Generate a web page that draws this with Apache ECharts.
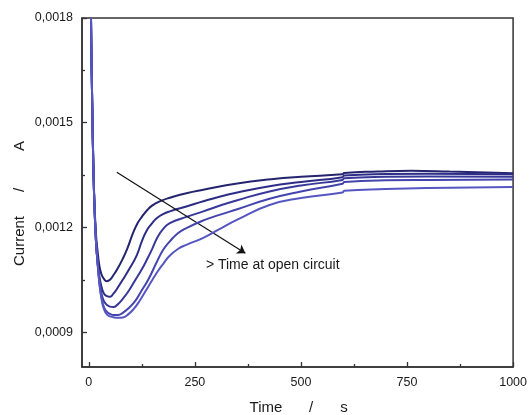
<!DOCTYPE html>
<html>
<head>
<meta charset="utf-8">
<script src="https://cdn.jsdelivr.net/npm/echarts@6/dist/echarts.min.js"></script>
<style>
  html, body { margin: 0; padding: 0; background: #fff; }
  #chart { width: 530px; height: 415px; }
</style>
</head>
<body>
<div id="chart"></div>
<script>
// time (s) / current (A) pairs, one array per curve (longer open-circuit time -> lower curve)
var curve1 = [[2,0.0023],[5,0.00182],[8,0.00156],[11,0.00137],[14,0.00125],[17,0.00118],[20,0.00114],[25,0.00109],[30,0.001065],[36,0.001052],[42,0.001046],[50,0.00105],[58,0.001063],[67,0.00108],[80,0.00111],[91,0.00114],[103,0.00118],[114,0.00121],[125,0.00123],[138,0.00125],[150,0.001263],[170,0.001276],[191,0.001285],[230,0.001298],[270,0.001308],[350,0.001326],[430,0.001338],[500,0.001345],[598,0.001352],[602,0.001356],[680,0.00136],[760,0.001362],[850,0.00136],[1000,0.001355]];
var curve2 = [[2,0.0023],[5,0.00182],[8,0.00156],[11,0.00136],[14,0.00124],[17,0.00116],[20,0.00111],[25,0.00106],[30,0.00103],[36,0.00101],[43,0.001003],[50,0.001001],[58,0.00101],[67,0.001025],[80,0.00105],[95,0.00108],[113,0.00112],[125,0.00116],[136,0.00119],[148,0.00121],[160,0.001226],[175,0.001238],[191,0.001246],[230,0.00126],[270,0.001275],[308,0.001288],[350,0.0013],[426,0.001318],[500,0.00133],[598,0.001344],[602,0.001349],[700,0.001353],[800,0.001354],[1000,0.001352]];
var curve3 = [[2,0.0023],[5,0.00182],[8,0.00156],[11,0.00136],[14,0.00124],[17,0.00116],[20,0.00111],[25,0.00105],[30,0.00101],[36,0.000988],[43,0.000978],[50,0.000973],[58,0.000972],[67,0.000978],[80,0.000995],[95,0.00102],[110,0.00105],[125,0.00108],[138,0.00111],[150,0.00114],[162,0.001172],[175,0.001195],[191,0.001212],[230,0.00123],[270,0.001246],[308,0.001262],[350,0.001278],[426,0.001303],[500,0.00132],[598,0.001336],[602,0.001341],[700,0.001345],[800,0.001346],[1000,0.001345]];
var curve4 = [[2,0.0023],[5,0.00182],[8,0.00156],[11,0.00136],[14,0.00124],[17,0.00116],[20,0.00111],[25,0.00104],[30,0.001],[36,0.00097],[43,0.000958],[50,0.000952],[58,0.000949],[69,0.000949],[80,0.000955],[95,0.00097],[110,0.00099],[125,0.00102],[140,0.00105],[160,0.0011],[175,0.001135],[191,0.00116],[210,0.001183],[230,0.001198],[270,0.00122],[308,0.001236],[350,0.001252],[426,0.001282],[500,0.001303],[598,0.001325],[602,0.00133],[700,0.001335],[800,0.001336],[1000,0.001337]];
var curve5 = [[2,0.0023],[5,0.00182],[8,0.00156],[11,0.00136],[14,0.00124],[17,0.00116],[20,0.00111],[25,0.00104],[30,0.000995],[36,0.000965],[43,0.00095],[50,0.000945],[60,0.000942],[70,0.000941],[80,0.000942],[92,0.00095],[105,0.000965],[120,0.00099],[135,0.00102],[150,0.00105],[163,0.001075],[175,0.001095],[190,0.001118],[210,0.001138],[230,0.00115],[270,0.00117],[308,0.001195],[350,0.001222],[426,0.001264],[500,0.001284],[598,0.0013],[602,0.001305],[700,0.00131],[800,0.001313],[1000,0.001316]];
var curves = [curve1, curve2, curve3, curve4, curve5];
var colors = ['#24246f', '#2d2d87', '#38389b', '#4444ae', '#5656c2'];

var xMajor = [0, 250, 500, 750, 1000];
var xMinor = [125, 375, 625, 875];
var yMajor = [0.0009, 0.0012, 0.0015, 0.0018];
var yMinor = [0.00105, 0.00135, 0.00165];

// arrow + annotation, in data units
var arrowFrom = [66, 0.001358];
var arrowTo = [369, 0.001126];
var noteAt = [276, 0.001092];
var noteText = '> Time at open circuit';

var axisColor = '#333';
var textColor = '#1a1a1a';
var font = 'Liberation Sans, Arial, sans-serif';

var chart = echarts.init(document.getElementById('chart'));

var series = curves.map(function (d, i) {
  return {
    type: 'line',
    data: d,
    showSymbol: false,
    smooth: 0.5,
    clip: true,
    lineStyle: { color: colors[i], width: 2 },
    itemStyle: { color: colors[i] },
    z: 2 + i,
    animation: false
  };
});

// arrow and its note
series.push({
  type: 'line',
  data: [],
  animation: false,
  markLine: {
    silent: true,
    symbol: ['none', 'arrow'],
    symbolSize: 8,
    label: { show: false },
    lineStyle: { color: '#111', width: 1.2, type: 'solid' },
    data: [[{ coord: arrowFrom }, { coord: arrowTo }]]
  },
  markPoint: {
    silent: true,
    symbol: 'circle',
    symbolSize: 1,
    itemStyle: { color: 'rgba(0,0,0,0)' },
    label: {
      show: true,
      position: 'inside',
      align: 'left',
      verticalAlign: 'middle',
      formatter: noteText,
      color: textColor,
      fontSize: 14,
      fontFamily: font
    },
    data: [{ coord: noteAt }]
  }
});

var option = {
  backgroundColor: '#fff',
  animation: false,
  grid: {
    left: 82, right: 15, top: 18, bottom: 48,
    show: true,
    borderColor: axisColor,
    borderWidth: 1.5
  },
  xAxis: [{
    type: 'value',
    min: -16, max: 1000,
    splitLine: { show: false },
    axisLine: { show: true, onZero: false, lineStyle: { color: axisColor, width: 1.5 } },
    axisTick: { show: true, inside: true, length: 5, customValues: xMajor, lineStyle: { color: axisColor, width: 1.3 } },
    axisLabel: {
      customValues: xMajor, color: textColor, fontSize: 12.5, fontFamily: font, margin: 9,
      formatter: function (v) { return String(v); }
    }
  }, {
    type: 'value',
    min: -16, max: 1000,
    position: 'bottom',
    splitLine: { show: false },
    axisLine: { show: false, onZero: false },
    axisTick: { show: true, inside: true, length: 3, customValues: xMinor, lineStyle: { color: axisColor, width: 1.3 } },
    axisLabel: { show: false }
  }],
  yAxis: [{
    type: 'value',
    min: 0.0008, max: 0.0018,
    splitLine: { show: false },
    axisLine: { show: true, onZero: false, lineStyle: { color: axisColor, width: 1.5 } },
    axisTick: { show: true, inside: true, length: 5, customValues: yMajor, lineStyle: { color: axisColor, width: 1.3 } },
    axisLabel: {
      customValues: yMajor,
      color: textColor, fontSize: 12.5, fontFamily: font, margin: 9,
      formatter: function (v) { return v.toFixed(4).replace('.', ','); }
    }
  }, {
    type: 'value',
    min: 0.0008, max: 0.0018,
    position: 'left',
    splitLine: { show: false },
    axisLine: { show: false, onZero: false },
    axisTick: { show: true, inside: true, length: 3, customValues: yMinor, lineStyle: { color: axisColor, width: 1.3 } },
    axisLabel: { show: false }
  }],
  graphic: [
    { type: 'text', x: 266, y: 408, style: { text: 'Time', fill: textColor, font: '15px ' + font, align: 'center', verticalAlign: 'middle' } },
    { type: 'text', x: 311, y: 408, style: { text: '/', fill: textColor, font: '15px ' + font, align: 'center', verticalAlign: 'middle' } },
    { type: 'text', x: 344, y: 408, style: { text: 's', fill: textColor, font: '15px ' + font, align: 'center', verticalAlign: 'middle' } },
    { type: 'text', x: 20, y: 241, rotation: Math.PI / 2, style: { text: 'Current', fill: textColor, font: '15px ' + font, align: 'center', verticalAlign: 'middle' } },
    { type: 'text', x: 20, y: 190, rotation: Math.PI / 2, style: { text: '/', fill: textColor, font: '15px ' + font, align: 'center', verticalAlign: 'middle' } },
    { type: 'text', x: 20, y: 146, rotation: Math.PI / 2, style: { text: 'A', fill: textColor, font: '15px ' + font, align: 'center', verticalAlign: 'middle' } }
  ],
  series: series
};

chart.setOption(option);
</script>
</body>
</html>
